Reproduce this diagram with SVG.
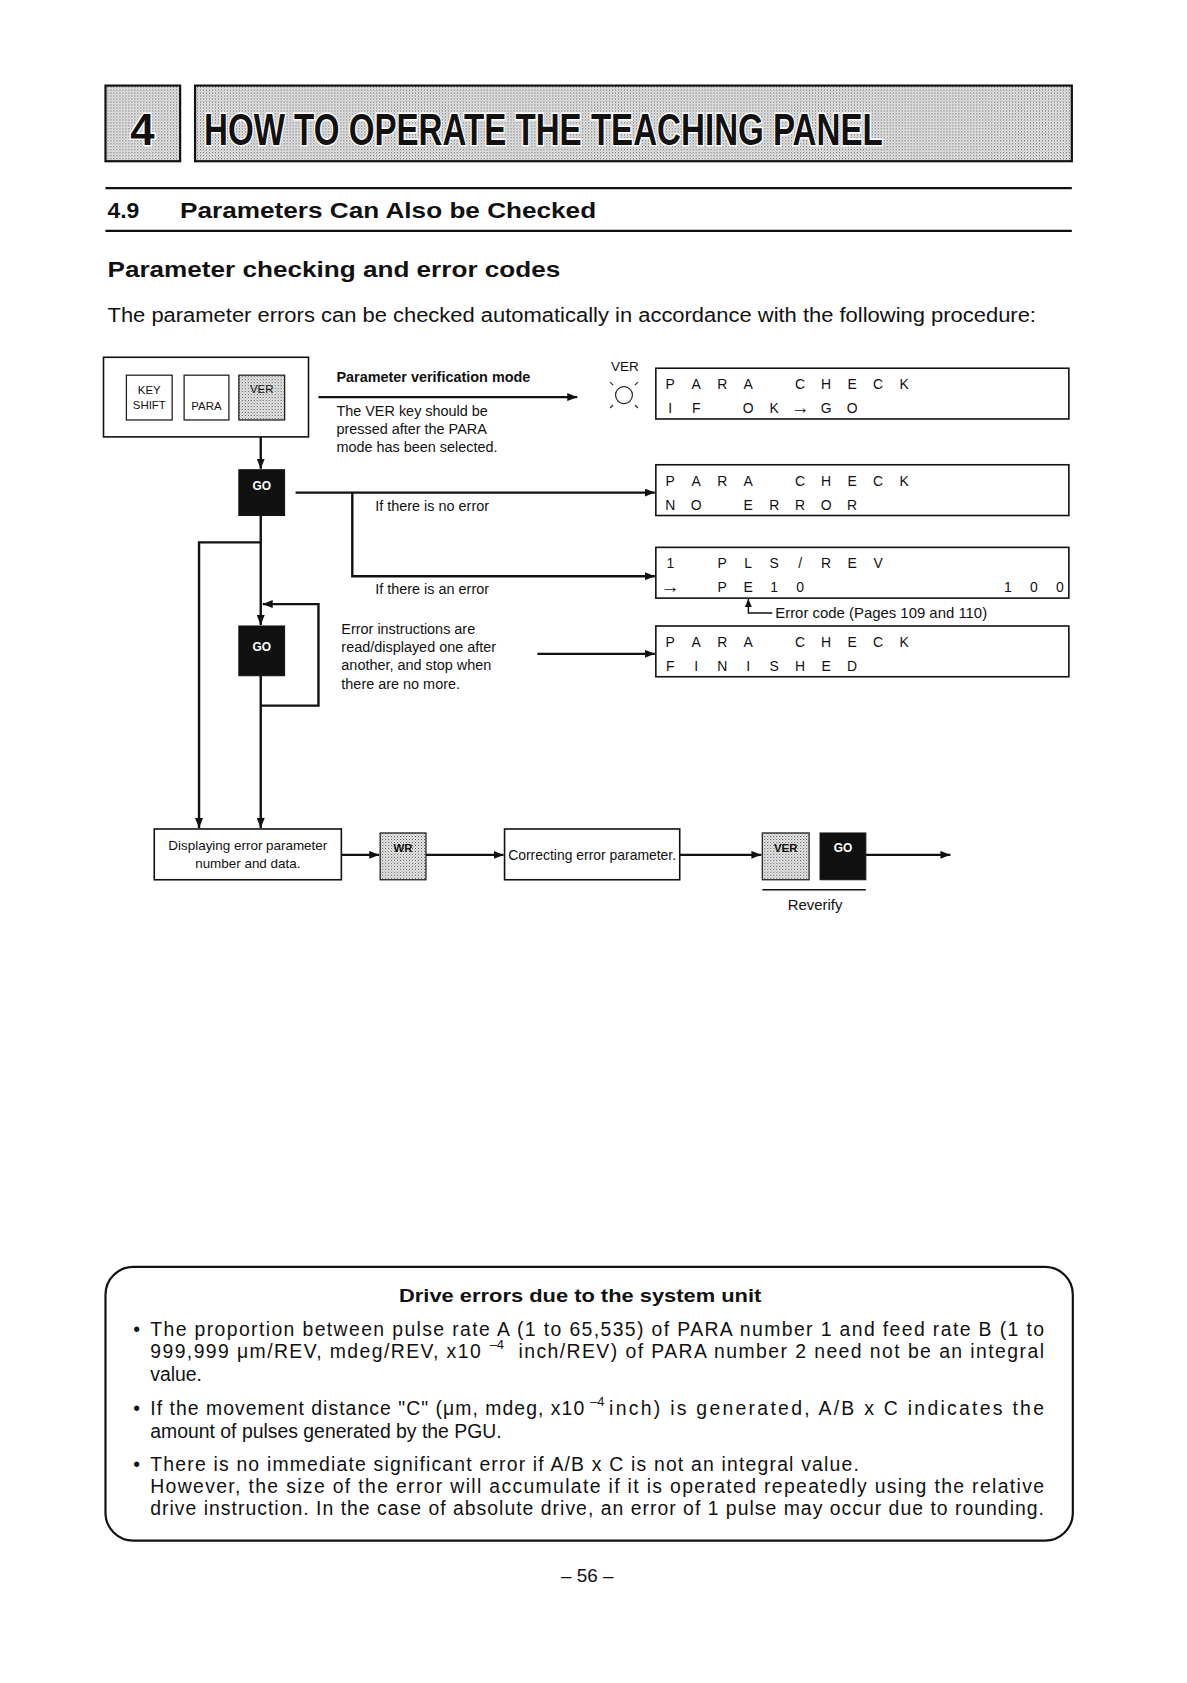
<svg xmlns="http://www.w3.org/2000/svg" width="1187" height="1683" viewBox="0 0 1187 1683">
<style>
text{font-family:"Liberation Sans",Arial,sans-serif;fill:#111}
.box{fill:#fff;stroke:#111;stroke-width:1.6}
.key{fill:#fff;stroke:#222;stroke-width:1.3}
.dkey{fill:url(#dots);stroke:#222;stroke-width:1.3}
.go{fill:#111;stroke:#111}
.gotxt{fill:#fff;font-weight:bold;font-size:12px;text-anchor:middle}
.ktxt{font-size:11.5px;text-anchor:middle}
.lcd{font-size:14px;text-anchor:middle}
.arr{font-size:19px;font-weight:bold}
.small{font-size:14.5px}
.body{font-size:19.5px}
.flow{fill:none;stroke:#111;stroke-width:2.4}
.thin{fill:none;stroke:#111;stroke-width:1.4}
</style>
<defs>
<pattern id="dots" width="3" height="3" patternUnits="userSpaceOnUse">
<rect width="3" height="3" fill="#ececec"/>
<rect x="0" y="0" width="1" height="1" fill="#444"/>
<rect x="1.5" y="1.5" width="1" height="1" fill="#777"/>
</pattern>
<marker id="ah" markerUnits="userSpaceOnUse" markerWidth="10" markerHeight="8" refX="10" refY="4" orient="auto">
<path d="M0,0 L10,4 L0,8 z" fill="#111"/>
</marker>
<marker id="ahs" markerUnits="userSpaceOnUse" markerWidth="8" markerHeight="7" refX="8" refY="3.5" orient="auto">
<path d="M0,0 L8,3.5 L0,7 z" fill="#111"/>
</marker>
</defs>
<rect width="1187" height="1683" fill="#fff"/>
<g id="page" transform="scale(0.9952)">

<!-- Header -->
<g id="header">
<rect x="106" y="86" width="75" height="76" fill="url(#dots)" stroke="#111" stroke-width="2.2"/>
<text x="143" y="146" font-size="44" font-weight="bold" text-anchor="middle" stroke="#fff" stroke-width="3" paint-order="stroke">4</text>
<rect x="196" y="86" width="881" height="76" fill="url(#dots)" stroke="#111" stroke-width="2.2"/>
<text x="205" y="146" font-size="44" font-weight="bold" textLength="682" lengthAdjust="spacingAndGlyphs" stroke="#fff" stroke-width="3" paint-order="stroke">HOW TO OPERATE THE TEACHING PANEL</text>
</g>
<g id="section-title">
<line x1="106" y1="189" x2="1077" y2="189" stroke="#111" stroke-width="2.2"/>
<text x="108" y="219" font-size="23" font-weight="bold">4.9</text>
<text x="181" y="219" font-size="23" font-weight="bold" textLength="418" lengthAdjust="spacingAndGlyphs">Parameters Can Also be Checked</text>
<line x1="106" y1="232" x2="1077" y2="232" stroke="#111" stroke-width="2.2"/>
<text x="108" y="278" font-size="22" font-weight="bold" textLength="455" lengthAdjust="spacingAndGlyphs">Parameter checking and error codes</text>
<text x="108" y="324" class="body" textLength="933" lengthAdjust="spacingAndGlyphs">The parameter errors can be checked automatically in accordance with the following procedure:</text>
</g>

<!-- Nodes -->
<g id="keypanel">
<rect x="104" y="359" width="206" height="80" class="box"/>
<rect x="127" y="377" width="46" height="45" class="key"/>
<text x="150" y="396" class="ktxt">KEY</text>
<text x="150" y="411" class="ktxt">SHIFT</text>
<rect x="185" y="377" width="45" height="45" class="key"/>
<text x="207.5" y="412" class="ktxt">PARA</text>
<rect x="240" y="377" width="46" height="45" class="dkey"/>
<text x="263" y="395" class="ktxt">VER</text>
</g>

<g id="go1">
<rect x="240" y="472" width="46" height="46" class="go"/>
<text x="263" y="492" class="gotxt">GO</text>
</g>

<g id="go2">
<rect x="240" y="629" width="46" height="50" class="go"/>
<text x="263" y="654" class="gotxt">GO</text>
</g>

<g id="ver-mode-label">
<text x="338" y="384" font-size="14.5" font-weight="bold">Parameter verification mode</text>
<text x="338" y="418" class="small">The VER key should be</text>
<text x="338" y="436" class="small">pressed after the PARA</text>
<text x="338" y="454" class="small">mode has been selected.</text>
</g>

<g id="ver-lamp">
<text x="614" y="373" font-size="13.5" textLength="28" lengthAdjust="spacingAndGlyphs">VER</text>
<circle cx="627" cy="397" r="8.5" fill="none" stroke="#222" stroke-width="1.2"/>
<g stroke="#333" stroke-width="1.2">
<line x1="613" y1="384" x2="616" y2="387"/>
<line x1="641" y1="384" x2="638" y2="387"/>
<line x1="613" y1="410" x2="616" y2="407"/>
<line x1="641" y1="410" x2="638" y2="407"/>
</g>
</g>

<g id="lcd1">
<rect x="659" y="370" width="415" height="51" class="box"/>
<g class="lcd">
<text x="673.5" y="391">P</text><text x="699.6" y="391">A</text><text x="725.7" y="391">R</text><text x="751.8" y="391">A</text>
<text x="804" y="391">C</text><text x="830.1" y="391">H</text><text x="856.2" y="391">E</text><text x="882.3" y="391">C</text><text x="908.4" y="391">K</text>
<text x="673.5" y="415">I</text><text x="699.6" y="415">F</text><text x="751.8" y="415">O</text><text x="777.9" y="415">K</text><text x="804" y="416" class="arr">→</text><text x="830.1" y="415">G</text><text x="856.2" y="415">O</text>
</g>
</g>

<g id="lcd2">
<rect x="659" y="467" width="415" height="51" class="box"/>
<g class="lcd">
<text x="673.5" y="488">P</text><text x="699.6" y="488">A</text><text x="725.7" y="488">R</text><text x="751.8" y="488">A</text>
<text x="804" y="488">C</text><text x="830.1" y="488">H</text><text x="856.2" y="488">E</text><text x="882.3" y="488">C</text><text x="908.4" y="488">K</text>
<text x="673.5" y="512">N</text><text x="699.6" y="512">O</text><text x="751.8" y="512">E</text><text x="777.9" y="512">R</text><text x="804" y="512">R</text><text x="830.1" y="512">O</text><text x="856.2" y="512">R</text>
</g>
</g>

<g id="lcd3">
<rect x="659" y="550" width="415" height="51" class="box"/>
<g class="lcd">
<text x="673.5" y="571">1</text><text x="725.7" y="571">P</text><text x="751.8" y="571">L</text><text x="777.9" y="571">S</text><text x="804" y="571">/</text><text x="830.1" y="571">R</text><text x="856.2" y="571">E</text><text x="882.3" y="571">V</text>
<text x="673.5" y="596" class="arr">→</text><text x="725.7" y="595">P</text><text x="751.8" y="595">E</text><text x="777.9" y="595">1</text><text x="804" y="595">0</text>
<text x="1012.8" y="595">1</text><text x="1038.9" y="595">0</text><text x="1065" y="595">0</text>
</g>
</g>

<g id="errcode-label">
<text x="779" y="621" font-size="15">Error code (Pages 109 and 110)</text>
</g>

<g id="lcd4">
<rect x="659" y="629" width="415" height="51" class="box"/>
<g class="lcd">
<text x="673.5" y="650">P</text><text x="699.6" y="650">A</text><text x="725.7" y="650">R</text><text x="751.8" y="650">A</text>
<text x="804" y="650">C</text><text x="830.1" y="650">H</text><text x="856.2" y="650">E</text><text x="882.3" y="650">C</text><text x="908.4" y="650">K</text>
<text x="673.5" y="674">F</text><text x="699.6" y="674">I</text><text x="725.7" y="674">N</text><text x="751.8" y="674">I</text><text x="777.9" y="674">S</text><text x="804" y="674">H</text><text x="830.1" y="674">E</text><text x="856.2" y="674">D</text>
</g>
</g>

<g id="branch-labels">
<text x="377" y="513" class="small">If there is no error</text>
<text x="377" y="597" class="small">If there is an error</text>
<text x="343" y="637" class="small">Error instructions are</text>
<text x="343" y="655" class="small">read/displayed one after</text>
<text x="343" y="673" class="small">another, and stop when</text>
<text x="343" y="692" class="small">there are no more.</text>
</g>

<g id="display-box">
<rect x="155" y="833" width="188" height="51" class="box"/>
<text x="249" y="854" font-size="13.5" text-anchor="middle">Displaying error parameter</text>
<text x="249" y="872" font-size="13.5" text-anchor="middle">number and data.</text>
</g>

<g id="wr-key">
<rect x="382" y="837" width="46" height="47" class="dkey"/>
<text x="405" y="856" class="ktxt" font-weight="bold">WR</text>
</g>

<g id="correct-box">
<rect x="507" y="833" width="176" height="51" class="box"/>
<text x="595" y="864" font-size="14" text-anchor="middle">Correcting error parameter.</text>
</g>

<g id="reverify">
<rect x="766" y="837" width="47" height="47" class="dkey"/>
<text x="789.5" y="856" class="ktxt" font-weight="bold">VER</text>
<rect x="824" y="837" width="46" height="47" class="go"/>
<text x="847" y="856" class="gotxt">GO</text>
<line x1="766" y1="894" x2="870" y2="894" stroke="#111" stroke-width="1.6"/>
<text x="819" y="914" font-size="15" text-anchor="middle">Reverify</text>
</g>

<!-- Connectors -->
<g id="connectors">
<path class="flow" d="M262,439 V471" marker-end="url(#ah)"/>
<path class="flow" d="M320,399 H580" marker-end="url(#ah)"/>
<path class="flow" d="M297,495 H658" marker-end="url(#ah)"/>
<path class="flow" d="M354,495 V579 H658" marker-end="url(#ah)"/>
<path class="flow" d="M262,518 V628" marker-end="url(#ah)"/>
<path class="flow" d="M262,545 H200 V832" marker-end="url(#ah)"/>
<path class="flow" d="M262,679 V832" marker-end="url(#ah)"/>
<path class="flow" d="M262,709 H320 V607 H264" marker-end="url(#ah)"/>
<path class="flow" d="M540,657 H658" marker-end="url(#ah)"/>
<path class="thin" d="M776,616 H752 V602" marker-end="url(#ahs)"/>
<path class="flow" d="M343,859 H381" marker-end="url(#ah)"/>
<path class="flow" d="M428,859 H506" marker-end="url(#ah)"/>
<path class="flow" d="M683,859 H765" marker-end="url(#ah)"/>
<path class="flow" d="M870,859 H955" marker-end="url(#ah)"/>
</g>

<!-- Note box -->
<g id="note">
<rect x="106" y="1273" width="972" height="275" rx="28" ry="28" fill="none" stroke="#111" stroke-width="2.2"/>
<text x="583" y="1308" font-size="18.5" font-weight="bold" text-anchor="middle" textLength="364" lengthAdjust="spacingAndGlyphs">Drive errors due to the system unit</text>
<g class="body">
<text x="134" y="1342">•</text>
<text x="151" y="1342" textLength="898" lengthAdjust="spacing">The proportion between pulse rate A (1 to 65,535) of PARA number 1 and feed rate B (1 to</text>
<text x="151" y="1365" textLength="332" lengthAdjust="spacing">999,999 μm/REV, mdeg/REV, x10</text>
<text x="492" y="1356" font-size="13">–4</text>
<text x="521" y="1365" textLength="528" lengthAdjust="spacing">inch/REV) of PARA number 2 need not be an integral</text>
<text x="151" y="1388">value.</text>
<text x="134" y="1422">•</text>
<text x="151" y="1422" textLength="436" lengthAdjust="spacing">If the movement distance "C" (μm, mdeg, x10</text>
<text x="593" y="1413" font-size="13">–4</text>
<text x="612" y="1422" textLength="437" lengthAdjust="spacing">inch) is generated, A/B x C indicates the</text>
<text x="151" y="1445">amount of pulses generated by the PGU.</text>
<text x="134" y="1478">•</text>
<text x="151" y="1478" textLength="712" lengthAdjust="spacing">There is no immediate significant error if A/B x C is not an integral value.</text>
<text x="151" y="1500" textLength="898" lengthAdjust="spacing">However, the size of the error will accumulate if it is operated repeatedly using the relative</text>
<text x="151" y="1522" textLength="898" lengthAdjust="spacing">drive instruction.  In the case of absolute drive, an error of 1 pulse may occur due to rounding.</text>
</g>
</g>

<g id="page-number">
<text x="590" y="1590" font-size="19" text-anchor="middle">– 56 –</text>
</g>
</g>
</svg>
